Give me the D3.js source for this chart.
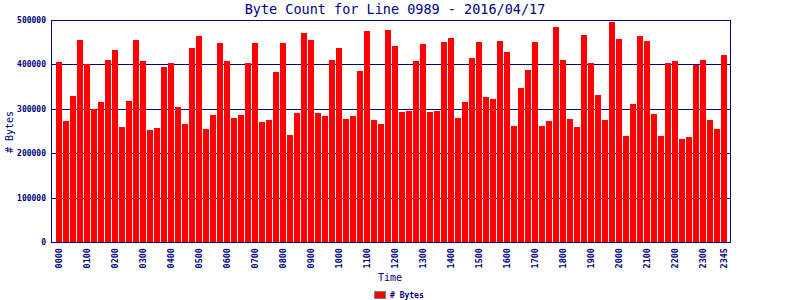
<!DOCTYPE html>
<html>
<head>
<meta charset="utf-8">
<script src="https://cdn.jsdelivr.net/npm/d3@7.9.0/dist/d3.min.js"></script>
<style>
  body { margin: 0; background: #fff; }
  svg text { font-family: "DejaVu Sans Mono", monospace; fill: #000080; }
</style>
</head>
<body>
<svg id="chart" width="800" height="300"></svg>
<script>
// chart data
const title = "Byte Count for Line 0989 - 2016/04/17";
const seriesName = "# Bytes";

// 15 minute slots, 0000 .. 2345
const times = [];
for (let h = 0; h < 24; h++) {
  for (let m = 0; m < 60; m += 15) {
    times.push(String(h).padStart(2, "0") + String(m).padStart(2, "0"));
  }
}

const bytes = [
  405000, 272500, 329500, 455600, 400900, 298800, 316000, 410600,
  433100, 259700, 318200, 455600, 408300, 253000, 257400, 394800,
  403800, 304700, 266400, 437600, 464600, 255200, 286700, 448900,
  408300, 280000, 286700, 403800, 448900, 271000, 275500, 383600,
  448900, 241700, 291200, 471400, 455600, 291200, 284500, 410600,
  437600, 277700, 284500, 385800, 475900, 275500, 266400, 478200,
  442100, 293500, 295700, 408300, 446600, 293500, 295700, 451100,
  460100, 280000, 316000, 415100, 451100, 327300, 322700, 453400,
  428600, 261900, 347500, 388100, 451100, 261900, 273200, 484900,
  410600, 277700, 259700, 466900, 403800, 331800, 275500, 496200,
  457900, 239500, 311500, 464600, 453400, 289000, 239500, 403800,
  408300, 232700, 237200, 399300, 410600, 275500, 255200, 421800
];

const yTicks = [0, 100000, 200000, 300000, 400000, 500000];
const xTickLabels = times.filter((t, i) => i % 4 === 0).concat(["2345"]);

const navy = "#000080";
const svg = d3.select("#chart");

const plot = { left: 51, right: 730, top: 20, bottom: 242 };

const x = d3.scaleBand()
  .domain(times)
  .range([56, 727])
  .paddingInner(1 / 7)
  .paddingOuter(0);

const y = d3.scaleLinear()
  .domain([0, 500000])
  .range([plot.bottom, plot.top]);

// grid lines (behind bars)
svg.append("g")
  .selectAll("line")
  .data(yTicks.filter(d => d > 0 && d < 500000))
  .join("line")
  .attr("x1", plot.left)
  .attr("x2", plot.right)
  .attr("y1", d => Math.round(y(d)) + 0.5)
  .attr("y2", d => Math.round(y(d)) + 0.5)
  .attr("stroke", navy)
  .attr("stroke-width", 1);

// bars
svg.append("g")
  .attr("shape-rendering", "crispEdges")
  .selectAll("rect")
  .data(bytes)
  .join("rect")
  .attr("x", (d, i) => x(times[i]))
  .attr("width", x.bandwidth())
  .attr("y", d => y(d))
  .attr("height", d => y(0) - y(d))
  .attr("fill", "#ff0000");

// frame
svg.append("rect")
  .attr("x", plot.left + 0.5)
  .attr("y", plot.top + 0.5)
  .attr("width", plot.right - plot.left)
  .attr("height", plot.bottom - plot.top)
  .attr("fill", "none")
  .attr("stroke", navy)
  .attr("stroke-width", 1)
  .attr("shape-rendering", "crispEdges");

// y axis labels
svg.append("g")
  .selectAll("text")
  .data(yTicks)
  .join("text")
  .attr("x", 46)
  .attr("y", d => y(d) + 3)
  .attr("text-anchor", "end")
  .attr("font-size", "8px")
  .attr("font-weight", "bold")
  .text(d => d);

// x axis labels (rotated)
svg.append("g")
  .selectAll("text")
  .data(xTickLabels)
  .join("text")
  .attr("transform", d => `translate(${x(d) + x.bandwidth() / 2 + 3},248) rotate(-90)`)
  .attr("text-anchor", "end")
  .attr("font-size", "8.5px")
  .attr("font-weight", "bold")
  .text(d => d);

// title
svg.append("text")
  .attr("x", 395)
  .attr("y", 14)
  .attr("text-anchor", "middle")
  .attr("font-size", "13.5px")
  .text(title);

// axis titles
svg.append("text")
  .attr("x", 390)
  .attr("y", 281)
  .attr("text-anchor", "middle")
  .attr("font-size", "10px")
  .text("Time");

svg.append("text")
  .attr("transform", "translate(13,132) rotate(-90)")
  .attr("text-anchor", "middle")
  .attr("font-size", "10px")
  .text(seriesName);

// legend
svg.append("rect")
  .attr("x", 374.5)
  .attr("y", 291.5)
  .attr("width", 11)
  .attr("height", 7)
  .attr("fill", "#ff0000")
  .attr("stroke", "#808080");

svg.append("text")
  .attr("x", 390)
  .attr("y", 298)
  .attr("font-size", "8px")
  .attr("font-weight", "bold")
  .text(seriesName);
</script>
</body>
</html>
